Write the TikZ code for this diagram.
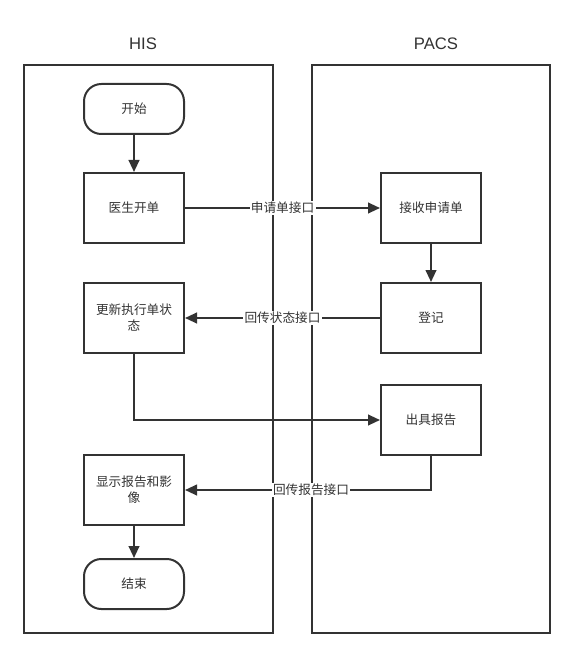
\documentclass[tikz,border=0pt]{standalone}
\usepackage{fontspec}
\setmainfont{Noto Sans CJK SC}
\newfontfamily\latinsans{Liberation Sans}
\usetikzlibrary{arrows.meta,calc}
\definecolor{ink}{HTML}{333333}
\tikzset{
  lane/.style={draw=ink, line width=1.5pt},
  proc/.style={draw=ink, line width=1.5pt, minimum width=75pt, minimum height=52.5pt, inner sep=2pt, align=center, font=\fontsize{9.5}{12}\selectfont, text=ink},
  term/.style={draw=ink, line width=1.5pt, rounded corners=13pt, minimum width=75pt, minimum height=37.5pt, font=\fontsize{9.5}{12}\selectfont, text=ink},
  flow/.style={draw=ink, line width=1.5pt, -{Triangle[length=9pt,width=8pt]}},
  lbl/.style={fill=white, inner sep=1pt, font=\fontsize{9.5}{12}\selectfont, text=ink},
  title/.style={font=\latinsans\fontsize{12.5}{14}\selectfont, text=ink}
}
\begin{document}
\begin{tikzpicture}[x=0.75pt,y=-0.75pt]
\useasboundingbox (0,0) rectangle (574,659);
% lanes
\draw[lane] (24,65) rectangle (273,633);
\draw[lane] (312,65) rectangle (550,633);
\node[title] (his) at (143,44) {HIS};
\node[title] (pacs) at (436,44) {PACS};
% left nodes
\node[term] (start) at (134,109) {开始};
\node[proc] (order) at (134,208) {医生开单};
\node[proc] (update) at (134,318) {更新执行单状\\态};
\node[proc] (show) at (134,490) {显示报告和影\\像};
\node[term] (end) at (134,584) {结束};
% right nodes
\node[proc] (recv) at (431,208) {接收申请单};
\node[proc] (reg) at (431,318) {登记};
\node[proc] (report) at (431,420) {出具报告};
% connectors
\draw[flow] (start) -- (order);
\draw[flow] (order) -- node[lbl] {申请单接口} (recv);
\draw[flow] (recv) -- (reg);
\draw[flow] (reg) -- node[lbl] {回传状态接口} (update);
\draw[flow] (update.south) |- (report.west);
\coordinate (bend) at (431,490);
\draw[flow] (report.south) -- (bend) -- (show.east);
\node[lbl] (replbl) at (311,490) {回传报告接口};
\draw[flow] (show) -- (end);
\end{tikzpicture}
\end{document}
